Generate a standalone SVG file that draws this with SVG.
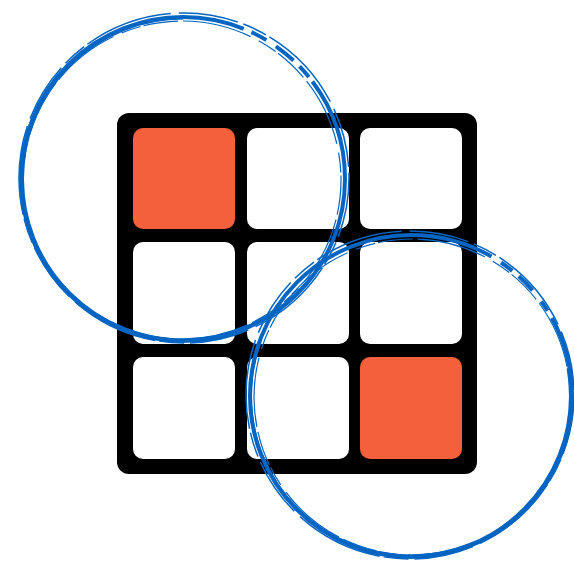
<svg xmlns="http://www.w3.org/2000/svg" width="574" height="565" viewBox="0 0 574 565">
<style>
.cell{fill:#ffffff}
.hot{fill:#F45F3C}
.ring{fill:none;stroke:#0565C2}
.main{stroke-width:4}
.thin{stroke-width:1.5;stroke-dasharray:60 6 25 4 90 8}
.thin2{stroke-width:1.2;stroke-dasharray:35 5 70 9 20 3}
</style>
<rect width="574" height="565" fill="#ffffff"/>
<g id="grid">
<rect x="117" y="113" width="360" height="361" rx="12" fill="#000000"/>
<rect class="hot" x="133" y="128" width="102" height="101" rx="10"/>
<rect class="cell" x="247" y="128" width="102" height="101" rx="10"/>
<rect class="cell" x="360" y="128" width="102" height="101" rx="10"/>
<rect class="cell" x="133" y="242" width="102" height="102" rx="10"/>
<rect class="cell" x="247" y="242" width="102" height="102" rx="10"/>
<rect class="cell" x="360" y="242" width="102" height="102" rx="10"/>
<rect class="cell" x="133" y="357" width="102" height="102" rx="10"/>
<rect class="cell" x="247" y="357" width="102" height="102" rx="10"/>
<rect class="hot" x="360" y="357" width="102" height="102" rx="10"/>
</g>
<g id="circle-top-left">
<circle class="ring" cx="183" cy="179" r="162" stroke-width="4" pathLength="360" stroke-dasharray="292 3 6 4 8 3 5 2 47" />
<circle class="ring" cx="183.5" cy="179" r="161" stroke-width="3" pathLength="360" stroke-dasharray="0 40 230 90"/>
<circle class="ring thin" cx="184" cy="178" r="165"/>
<circle class="ring thin2" cx="182" cy="180" r="159"/>
</g>
<g id="circle-bottom-right">
<circle class="ring" cx="411" cy="396" r="161" stroke-width="4" pathLength="360" stroke-dasharray="300 4 5 3 7 5 4 3 29"/>
<circle class="ring" cx="410.5" cy="396" r="160" stroke-width="3" pathLength="360" stroke-dasharray="200 150 10"/>
<circle class="ring thin" cx="410" cy="395" r="164"/>
<circle class="ring thin2" cx="412" cy="397" r="158"/>
</g>
</svg>
